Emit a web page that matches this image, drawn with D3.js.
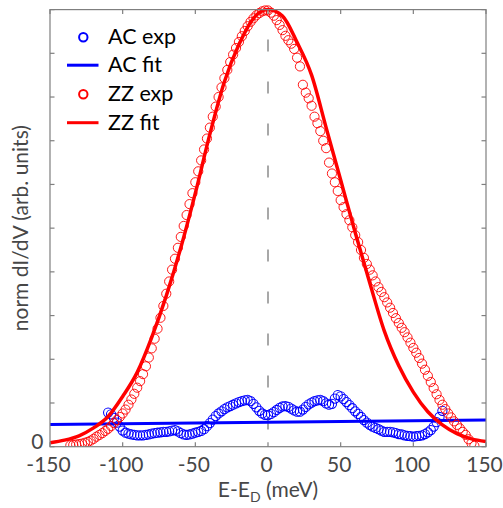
<!DOCTYPE html>
<html><head><meta charset="utf-8">
<script src="https://cdn.jsdelivr.net/npm/d3@7"></script>
<style>body{margin:0;background:#fff}svg{display:block}</style>
</head><body>
<script>
// ---- data ----
const xTicks = [-150, -100, -50, 0, 50, 100, 150];
const yTicks = [0, 0.1, 0.2, 0.3, 0.4, 0.5, 0.6, 0.7, 0.8, 0.9, 1.0];
const yTickLabels = ["0"];
const legendLabels = ["AC exp", "AC fit", "ZZ exp", "ZZ fit"];

const zzExpE = [-136,-134,-132,-130,-128,-126,-124,-122,-120,-118,-116,-114,-112,-110,-108,-106,-104,-102,-100,-98,-96,-94,-92,-90,-88,-86,-84,-82,-80,-78,-76,-74,-72,-70,-68,-66,-64,-62,-60,-58,-56,-54,-52,-50,-48,-46,-44,-42,-40,-38,-36,-34,-32,-30,-28,-26,-24,-22,-20,-18,-16,-14,-12,-10,-8,-6,-4,-2,0,2,4,6,8,10,12,14,16,18,20,22,24,26,28,30,32,34,36,38,40,42,44,46,48,50,52,54,56,58,60,62,64,66,68,70,72,74,76,78,80,82,84,86,88,90,92,94,96,98,100,102,104,106,108,110,112,114,116,118,120,122,124,126,128,130,132,134,136,138,140,142];
const zzExp = [0.003,0.004,0.005,0.006,0.007,0.009,0.011,0.014,0.018,0.023,0.027,0.031,0.036,0.041,0.047,0.054,0.061,0.068,0.076,0.085,0.096,0.108,0.121,0.135,0.150,0.166,0.184,0.204,0.225,0.247,0.270,0.295,0.322,0.350,0.378,0.405,0.430,0.455,0.480,0.505,0.530,0.555,0.580,0.605,0.630,0.655,0.680,0.705,0.730,0.755,0.778,0.800,0.822,0.843,0.862,0.880,0.897,0.912,0.926,0.939,0.951,0.962,0.972,0.980,0.987,0.992,0.996,0.998,0.998,0.993,0.986,0.976,0.965,0.953,0.940,0.930,0.922,0.910,0.890,0.870,0.828,0.810,0.797,0.780,0.755,0.740,0.722,0.700,0.683,0.650,0.625,0.605,0.585,0.564,0.548,0.532,0.518,0.502,0.484,0.468,0.450,0.432,0.418,0.405,0.392,0.378,0.365,0.354,0.342,0.330,0.318,0.306,0.294,0.283,0.272,0.262,0.250,0.238,0.226,0.215,0.203,0.190,0.176,0.162,0.148,0.134,0.120,0.107,0.096,0.086,0.076,0.067,0.058,0.050,0.042,0.034,0.027,0.017,0.008,0.002];

const zzFitE = [-150,-140,-130,-120,-110,-100,-90,-80,-70,-60,-50,-40,-30,-20,-10,0,10,20,30,40,50,60,70,80,90,100,110,120,130,140,150];
const zzFit = [0.009,0.015,0.025,0.043,0.069,0.115,0.170,0.250,0.345,0.455,0.580,0.715,0.835,0.920,0.980,1.000,0.985,0.925,0.850,0.730,0.610,0.490,0.375,0.265,0.185,0.125,0.080,0.050,0.030,0.018,0.012];

const acExpE = [-110,-108,-106,-104,-102,-100,-98,-96,-94,-92,-90,-88,-86,-84,-82,-80,-78,-76,-74,-72,-70,-68,-66,-64,-62,-60,-58,-56,-54,-52,-50,-48,-46,-44,-42,-40,-38,-36,-34,-32,-30,-28,-26,-24,-22,-20,-18,-16,-14,-12,-10,-8,-6,-4,-2,0,2,4,6,8,10,12,14,16,18,20,22,24,26,28,30,32,34,36,38,40,42,44,46,48,50,52,54,56,58,60,62,64,66,68,70,72,74,76,78,80,82,84,86,88,90,92,94,96,98,100,102,104,106,108,110,112,114,116,118,120];
const acExp = [0.078,0.074,0.066,0.055,0.046,0.037,0.032,0.030,0.028,0.027,0.026,0.026,0.026,0.027,0.028,0.030,0.031,0.032,0.033,0.034,0.034,0.035,0.037,0.038,0.035,0.031,0.028,0.027,0.028,0.030,0.032,0.034,0.036,0.040,0.047,0.054,0.062,0.070,0.076,0.081,0.086,0.090,0.093,0.096,0.099,0.102,0.104,0.106,0.107,0.104,0.098,0.090,0.082,0.076,0.073,0.072,0.075,0.079,0.084,0.089,0.092,0.093,0.091,0.087,0.083,0.080,0.080,0.085,0.091,0.097,0.101,0.104,0.106,0.107,0.104,0.099,0.096,0.098,0.110,0.118,0.115,0.109,0.102,0.095,0.088,0.081,0.075,0.068,0.061,0.055,0.050,0.046,0.043,0.040,0.037,0.034,0.034,0.034,0.033,0.031,0.029,0.028,0.026,0.025,0.024,0.023,0.024,0.025,0.026,0.029,0.033,0.038,0.046,0.056,0.068,0.082];

const acFitE = [-150, 150];
const acFit = [0.051, 0.061];

// ---- drawing ----
const W = 503, H = 508;
const L = 50, R = 486, T = 9.6, B = 446.7;
const x = d3.scaleLinear().domain([-150, 150]).range([L, R]);
const y = d3.scaleLinear().domain([0, 1]).range([B, T]);
const FONT = "Lato, 'Open Sans', sans-serif";
const axisGray = "#7f7f7f", textGray = "#474747";

const svg = d3.select("body").append("svg").attr("width", W).attr("height", H);
svg.append("defs").append("clipPath").attr("id", "clip")
  .append("rect").attr("x", L).attr("y", 0).attr("width", R - L).attr("height", B);

const plot = svg.append("g").attr("clip-path", "url(#clip)");

// dashed zero line
plot.append("line").attr("x1", x(0)).attr("x2", x(0)).attr("y1", y(1)).attr("y2", y(0))
  .attr("stroke", "#6e6e6e").attr("stroke-width", 1.2)
  .attr("stroke-dasharray", "12,30").attr("stroke-dashoffset", 12);

const line = d3.line().x(d => x(d[0])).y(d => y(d[1])).curve(d3.curveMonotoneX);

// AC exp
plot.append("g").selectAll("circle").data(d3.zip(acExpE, acExp)).join("circle")
  .attr("cx", d => x(d[0])).attr("cy", d => y(d[1])).attr("r", 4.6)
  .attr("fill", "none").attr("stroke", "#0000ff").attr("stroke-width", 1.05);
// AC fit
plot.append("path").datum(d3.zip(acFitE, acFit)).attr("d", d3.line().x(d => x(d[0])).y(d => y(d[1])))
  .attr("fill", "none").attr("stroke", "#0000ff").attr("stroke-width", 3);
// ZZ exp
plot.append("g").selectAll("circle").data(d3.zip(zzExpE, zzExp)).join("circle")
  .attr("cx", d => x(d[0])).attr("cy", d => y(d[1])).attr("r", 4.6)
  .attr("fill", "none").attr("stroke", "#ff0000").attr("stroke-width", 0.9);
// ZZ fit
plot.append("path").datum(d3.zip(zzFitE, zzFit)).attr("d", line)
  .attr("fill", "none").attr("stroke", "#ff0000").attr("stroke-width", 3.5);

// axes box
const ax = svg.append("g").attr("stroke", axisGray).attr("stroke-width", 1.2).attr("fill", "none");
ax.append("rect").attr("x", L).attr("y", T).attr("width", R - L).attr("height", B - T);
xTicks.forEach(t => {
  ax.append("line").attr("x1", x(t)).attr("x2", x(t)).attr("y1", B).attr("y2", B - 4.5);
  ax.append("line").attr("x1", x(t)).attr("x2", x(t)).attr("y1", T).attr("y2", T + 4.5);
});
yTicks.forEach(t => {
  ax.append("line").attr("x1", L).attr("x2", L + 4.5).attr("y1", y(t)).attr("y2", y(t));
  ax.append("line").attr("x1", R).attr("x2", R - 4.5).attr("y1", y(t)).attr("y2", y(t));
});

// tick labels
svg.append("g").selectAll("text").data(xTicks).join("text")
  .attr("x", d => x(d) - 1.5).attr("y", 472).attr("text-anchor", "middle")
  .attr("font-family", FONT).attr("font-size", 21).attr("fill", textGray)
  .text(d => d3.format("d")(d).replace("−", "-"));
svg.append("g").selectAll("text").data(yTickLabels).join("text")
  .attr("x", 43.5).attr("y", y(0) + 2).attr("text-anchor", "end")
  .attr("font-family", FONT).attr("font-size", 21).attr("fill", textGray)
  .text(d => d);

// axis titles
const xt = svg.append("text").attr("x", x(0)).attr("y", 497).attr("text-anchor", "middle")
  .attr("font-family", FONT).attr("font-size", 21).attr("fill", textGray);
xt.append("tspan").text("E-E");
xt.append("tspan").attr("font-size", 14).attr("dy", 5).text("D");
xt.append("tspan").attr("dy", -5).text(" (meV)");

svg.append("text").attr("transform", `translate(28,${(T + B) / 2}) rotate(-90)`)
  .attr("text-anchor", "middle").attr("font-family", FONT).attr("font-size", 21).attr("fill", textGray)
  .text("norm dI/dV (arb. units)");

// legend
const legY = [37.3, 65.2, 94.3, 122.7];
const lg = svg.append("g");
const kinds = ["c", "l", "c", "l"], cols = ["#0000ff", "#0000ff", "#ff0000", "#ff0000"];
legendLabels.forEach((lab, i) => {
  if (kinds[i] === "c") {
    lg.append("circle").attr("cx", 83.3).attr("cy", legY[i]).attr("r", 4.2)
      .attr("fill", "none").attr("stroke", cols[i]).attr("stroke-width", 2);
  } else {
    lg.append("line").attr("x1", 67).attr("x2", 98.5).attr("y1", legY[i]).attr("y2", legY[i])
      .attr("stroke", cols[i]).attr("stroke-width", 3);
  }
  lg.append("text").attr("x", 108).attr("y", legY[i] + 7)
    .attr("font-family", FONT).attr("font-size", 21.5).attr("fill", "#000").text(lab);
});
</script>
</body></html>
